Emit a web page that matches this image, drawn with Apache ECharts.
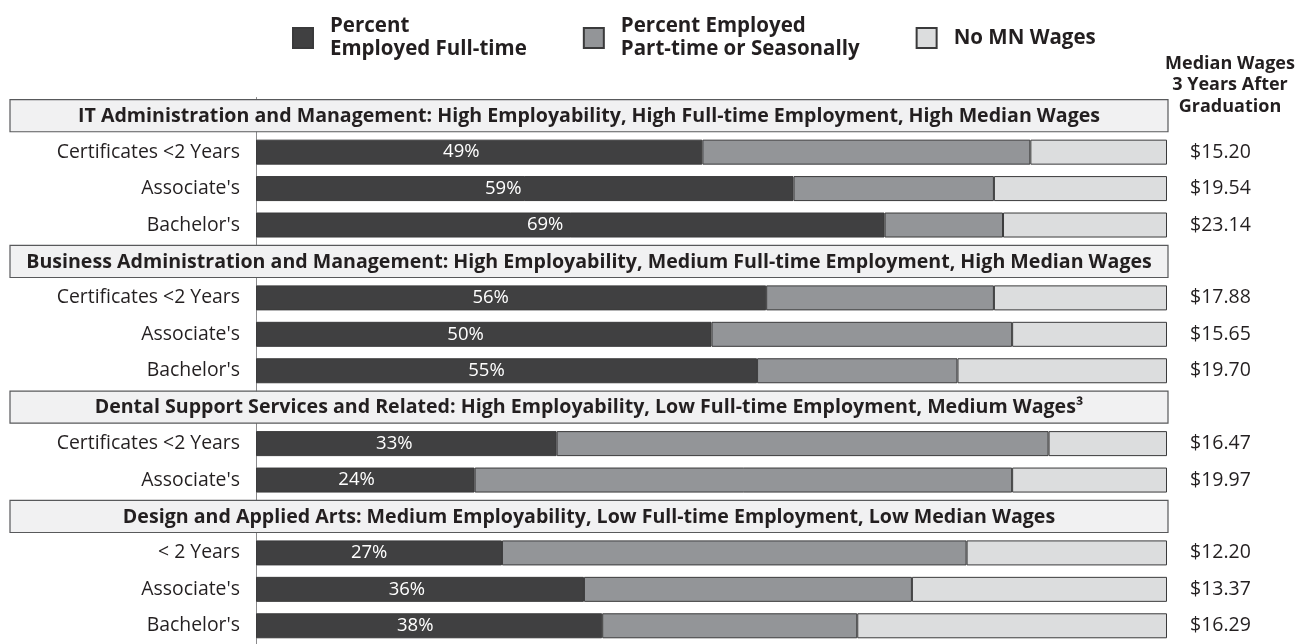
<!DOCTYPE html>
<html>
<head>
<meta charset="utf-8">
<script src="https://cdn.jsdelivr.net/npm/echarts@6/dist/echarts.min.js"></script>
<style>html,body{margin:0;padding:0;background:#fff;}#c{width:1304px;height:644px;}</style>
</head>
<body>
<div id="c"></div>
<script>
const FONT = 'Open Sans';
const seriesNames = ['Percent\nEmployed Full-time', 'Percent Employed\nPart-time or Seasonally', 'No MN Wages'];
const groupTitles = [
  'IT Administration and Management: High Employability, High Full-time Employment, High Median Wages',
  'Business Administration and Management: High Employability, Medium Full-time Employment, High Median Wages',
  'Dental Support Services and Related: High Employability, Low Full-time Employment, Medium Wages³',
  'Design and Applied Arts: Medium Employability, Low Full-time Employment, Low Median Wages'
];
const headerRows = [0, 4, 8, 11];
const rowLabels = ['', 'Certificates <2 Years', "Associate's", "Bachelor's",
                   '', 'Certificates <2 Years', "Associate's", "Bachelor's",
                   '', 'Certificates <2 Years', "Associate's",
                   '', '< 2 Years', "Associate's", "Bachelor's"];
const fullTime = [null, 49, 59, 69, null, 56, 50, 55, null, 33, 24, null, 27, 36, 38];
const partTime = [null, 36, 22, 13, null, 25, 33, 22, null, 54, 59, null, 51, 36, 28];
const noWages  = [null, 15, 19, 18, null, 19, 17, 23, null, 13, 17, null, 22, 28, 34];
const wages = ['', '$15.20', '$19.54', '$23.14', '', '$17.88', '$15.65', '$19.70',
               '', '$16.47', '$19.97', '', '$12.20', '$13.37', '$16.29'];
const wageHeader = 'Median Wages\n3 Years After\nGraduation';

const colors = ['#404041', '#939598', '#dcddde'];
const textColor = '#231f20';

const chart = echarts.init(document.getElementById('c'));

const barSeries = [fullTime, partTime, noWages].map((vals, i) => ({
  name: seriesNames[i],
  type: 'bar',
  stack: 'total',
  barWidth: 25,
  data: vals,
  itemStyle: { color: colors[i], borderColor: '#3a3a3b', borderWidth: 1 },
  label: i === 0 ? {
    show: true,
    position: ['46%', '50%'],
    align: 'center',
    verticalAlign: 'middle',
    formatter: '{c}%',
    color: '#ffffff',
    fontFamily: FONT,
    fontSize: 18.5
  } : { show: false },
  emphasis: { disabled: true },
  animation: false
}));

const headerSeries = {
  type: 'custom',
  clip: false,
  silent: true,
  animation: false,
  z: 5,
  data: headerRows.map((r, i) => [100, r, i]),
  encode: { x: 0, y: 1 },
  renderItem: function (params, api) {
    const right = api.coord([100, api.value(1)]);
    const band = api.size([0, 1])[1];
    const h = band * 0.88;
    const left = 10;
    const w = right[0] + 1 - left;
    const cy = right[1];
    return {
      type: 'group',
      children: [
        { type: 'rect', shape: { x: left, y: cy - h / 2, width: w, height: h },
          style: { fill: '#f1f1f2', stroke: '#58595b', lineWidth: 1.2 } },
        { type: 'text', x: left + w / 2, y: cy + 0.5,
          style: { text: groupTitles[api.value(2)], fill: textColor, font: 'bold 19.6px "' + FONT + '"',
                   align: 'center', verticalAlign: 'middle' } }
      ]
    };
  }
};

chart.setOption({
  backgroundColor: '#ffffff',
  animation: false,
  legend: {
    data: seriesNames,
    left: 287,
    top: 10,
    icon: 'rect',
    itemWidth: 20,
    itemHeight: 20,
    itemGap: 56,
    selectedMode: false,
    textStyle: { fontFamily: FONT, fontWeight: 'bold', fontSize: 20.5, lineHeight: 23, color: textColor, padding: [0, 0, 0, 12] }
  },
  graphic: [{
    type: 'text',
    x: 1230,
    y: 53,
    style: { text: wageHeader, fill: textColor, font: 'bold 18px "' + FONT + '"', align: 'center', lineHeight: 21.5 }
  }],
  grid: { left: 256, right: 137, top: 97.5, height: 553.8, containLabel: false },
  xAxis: { type: 'value', min: 0, max: 100, show: false },
  yAxis: [{
    type: 'category',
    inverse: true,
    data: rowLabels,
    axisLine: { show: true, lineStyle: { color: '#8a8a8c', width: 1 } },
    axisTick: { show: false },
    axisLabel: { fontFamily: FONT, fontSize: 19.4, color: textColor, margin: 16 }
  }, {
    type: 'category',
    inverse: true,
    position: 'right',
    data: wages,
    axisLine: { show: false },
    axisTick: { show: false },
    axisLabel: { fontFamily: FONT, fontSize: 19.5, color: textColor, margin: 23, align: 'left' }
  }],
  series: barSeries.concat([headerSeries])
});
</script>
</body>
</html>
